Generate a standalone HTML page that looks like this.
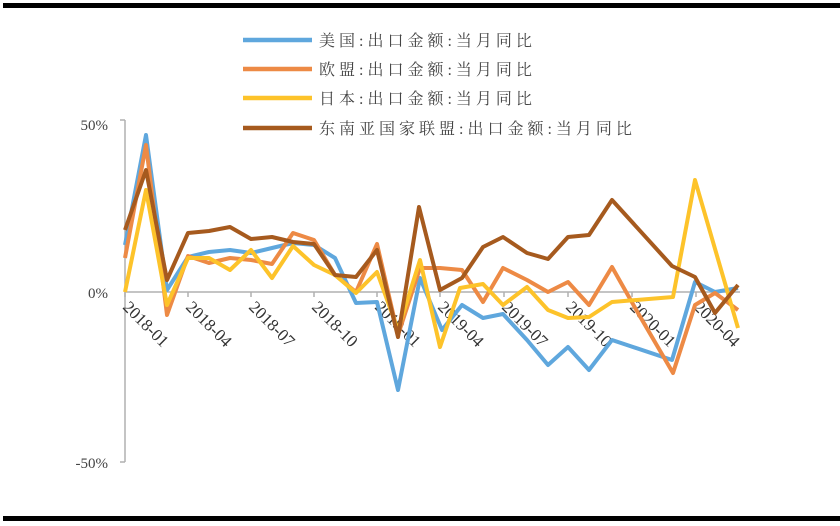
<!DOCTYPE html>
<html><head><meta charset="utf-8"><style>
html,body{margin:0;padding:0;background:#fff;}
svg{display:block}
</style></head><body>
<svg width="840" height="526" viewBox="0 0 840 526" xmlns="http://www.w3.org/2000/svg">
<rect x="3" y="3" width="837" height="5" fill="#000"/>
<rect x="3" y="516" width="837" height="5" fill="#000"/>
<g stroke="#b0b0b0" stroke-width="1.5" fill="none">
<line x1="125" y1="120" x2="125" y2="462"/>
<line x1="120" y1="120" x2="125" y2="120"/>
<line x1="120" y1="462" x2="125" y2="462"/>
<line x1="125" y1="292" x2="740" y2="292"/>
<path d="M125 292v5M188 292v5M251 292v5M314 292v5M377 292v5M440 292v5M504 292v5M568 292v5M632 292v5M696 292v5"/>
</g>
<g font-family="Liberation Serif, serif" font-size="15" fill="#444" text-anchor="end">
<text x="108" y="130">50%</text>
<text x="108" y="298">0%</text>
<text x="108" y="468">-50%</text>
</g>
<g font-family="Liberation Serif, serif" font-size="17" fill="#333">
<text transform="translate(122,308) rotate(45)">2018-01</text>
<text transform="translate(185,308) rotate(45)">2018-04</text>
<text transform="translate(248,308) rotate(45)">2018-07</text>
<text transform="translate(311,308) rotate(45)">2018-10</text>
<text transform="translate(374,308) rotate(45)">2019-01</text>
<text transform="translate(437,308) rotate(45)">2019-04</text>
<text transform="translate(501,308) rotate(45)">2019-07</text>
<text transform="translate(565,308) rotate(45)">2019-10</text>
<text transform="translate(629,308) rotate(45)">2020-01</text>
<text transform="translate(693,308) rotate(45)">2020-04</text>
</g>
<g fill="none" stroke-width="4" stroke-linejoin="round">
<polyline stroke="#5fa7dd" points="125,245 146,135 167,290 188,257 209,252 230,250 251,253 272,248 293,243 314,245 335,258 356,303 377,302 398,390 420,278 442,330 462,305 483,318 503,314 527,340 548,365 568,347 589,370 612,340 672,360 695,282 715,292 738,288"/>
<polyline stroke="#ed8a45" points="125,258 146,145 167,315 188,256 209,263 230,258 251,260 272,264 293,233 314,240 335,275 356,292 377,244 398,335 420,268 440,268 462,270 483,302 503,268 527,280 548,292 568,282 589,305 612,267 638,313 673,373 695,305 715,293 738,310"/>
<polyline stroke="#fdc32a" points="125,292 146,190 167,305 188,258 209,258 230,270 251,250 272,278 293,246 314,265 335,275 356,293 377,272 398,330 420,260 440,347 460,288 483,284 503,305 527,287 548,310 568,318 589,317 612,302 673,297 695,180 738,328"/>
<polyline stroke="#a65a1e" points="125,230 146,170 167,280 188,233 209,231 230,227 251,239 272,237 293,242 314,244 335,275 356,277 377,250 398,337 419,207 440,290 462,278 483,247 503,237 527,253 548,259 568,237 589,235 612,200 672,266 695,277 715,313 738,285"/>
</g>
<g stroke-width="4.5">
<line x1="243" y1="40" x2="312" y2="40" stroke="#5fa7dd"/>
<line x1="243" y1="69" x2="312" y2="69" stroke="#ed8a45"/>
<line x1="243" y1="98" x2="312" y2="98" stroke="#fdc32a"/>
<line x1="243" y1="128" x2="312" y2="128" stroke="#a65a1e"/>
</g>
<g font-family="Liberation Serif, 'Noto Serif CJK SC', serif" font-size="16" fill="#444" letter-spacing="4">
<text x="319" y="46">美国:出口金额:当月同比</text>
<text x="319" y="75">欧盟:出口金额:当月同比</text>
<text x="319" y="104">日本:出口金额:当月同比</text>
<text x="319" y="134">东南亚国家联盟:出口金额:当月同比</text>
</g>
</svg>
</body></html>
